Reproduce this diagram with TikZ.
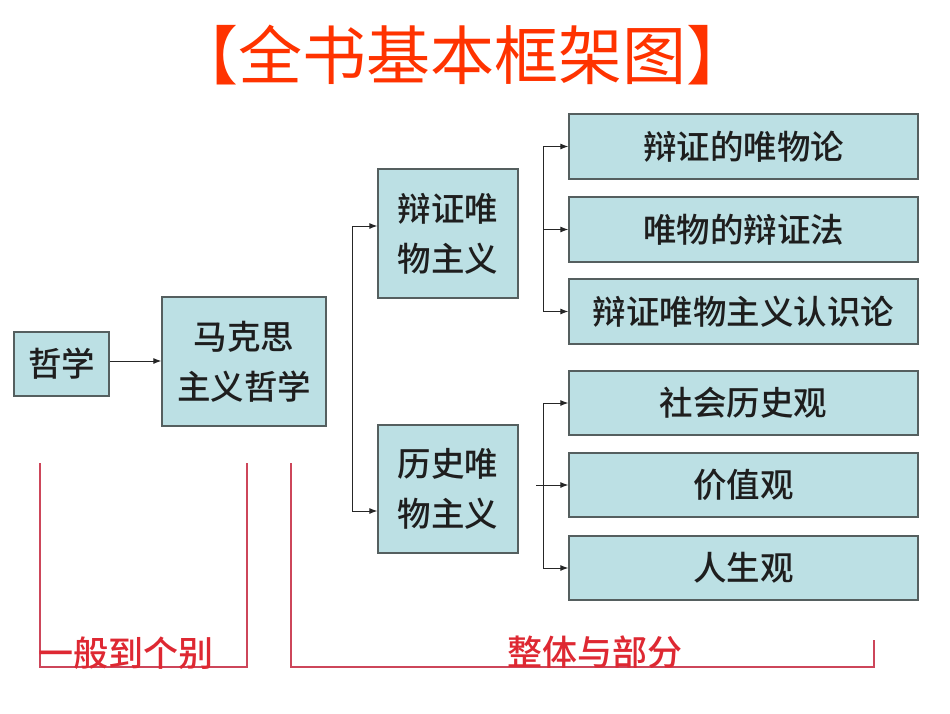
\documentclass[tikz,border=0pt]{standalone}
\usepackage{fontspec}
\newfontfamily\cjk{Noto Sans CJK SC Medium}
\newfontfamily\cjkr{Noto Sans CJK SC}
\usetikzlibrary{arrows.meta,calc}
\definecolor{boxfill}{RGB}{188,224,228}
\definecolor{boxdraw}{RGB}{85,95,95}
\definecolor{titlered}{RGB}{255,51,0}
\definecolor{redline}{RGB}{205,70,90}
\definecolor{redtext}{RGB}{222,40,50}
\definecolor{txt}{RGB}{30,30,30}
\tikzset{
  bx/.style={draw=boxdraw, line width=1.3pt, fill=boxfill, inner sep=0pt, align=center,
    text=txt, font=\cjk\fontsize{33.5}{50}\selectfont},
  arr/.style={draw=black!85, line width=1pt, -{Latex[length=8pt,width=6pt]}},
  arrboth/.style={draw=black!85, line width=1pt, {Latex[length=8pt,width=6pt]}-{Latex[length=8pt,width=6pt]}},
  brk/.style={draw=redline, line width=1.1pt},
  lbl/.style={text=redtext, font=\cjk\fontsize{35}{38}\selectfont, inner sep=0pt},
}
\begin{document}
\begin{tikzpicture}[x=1pt,y=-1pt]
\useasboundingbox (0,0) rectangle (950,713);
\fill[white] (0,0) rectangle (950,713);
% title
\node[text=titlered, font=\cjkr\fontsize{64}{66}\selectfont, inner sep=0pt] (title) at (462,55) {【全书基本框架图】};
% boxes
\node[bx, minimum width=95pt, minimum height=64pt] (zx) at (61.5,364) {哲学};
\node[bx, minimum width=164pt, minimum height=129pt] (mk) at (244,361.5) {马克思\\主义哲学};
\node[bx, minimum width=140pt, minimum height=129pt] (bz) at (448,233.5) {辩证唯\\物主义};
\node[bx, minimum width=140pt, minimum height=128pt] (ls) at (448,489) {历史唯\\物主义};
\node[bx, minimum width=349pt, minimum height=65pt] (r1) at (743.5,146.5) {辩证的唯物论};
\node[bx, minimum width=349pt, minimum height=65pt] (r2) at (743.5,229.5) {唯物的辩证法};
\node[bx, minimum width=349pt, minimum height=65pt] (r3) at (743.5,311.5) {辩证唯物主义认识论};
\node[bx, minimum width=349pt, minimum height=64pt] (r4) at (743.5,403) {社会历史观};
\node[bx, minimum width=349pt, minimum height=64pt] (r5) at (743.5,485) {价值观};
\node[bx, minimum width=349pt, minimum height=64pt] (r6) at (743.5,568) {人生观};
% connectors
\draw[arr] (zx.east |- 0,361) -- (mk.west |- 0,361);
\coordinate (v1) at (352,0);
\coordinate (v2) at (543,0);
\coordinate (s2) at (536,0);
\draw[arrboth] (bz.west |- 0,226) -- (v1 |- 0,226) -- (v1 |- 0,511) -- (ls.west |- 0,511);
\draw[arrboth] (r1.west) -- (r1.west -| v2) -- (r3.west -| v2) -- (r3.west);
\draw[arr] (r2.west -| v2) -- (r2.west);
\draw[arrboth] (r4.west) -- (r4.west -| v2) -- (r6.west -| v2) -- (r6.west);
\draw[arr] (r5.west -| s2) -- (r5.west);
% red brackets
\draw[brk] (40,463) -- (40,667) -- (247,667) -- (247,463);
\draw[brk] (291,463) -- (291,667) -- (874,667) -- (874,640);
\node[lbl, anchor=west] (t1) at (38,653) {一般到个别};
\node[lbl] (t2) at (595,652) {整体与部分};
\end{tikzpicture}
\end{document}
